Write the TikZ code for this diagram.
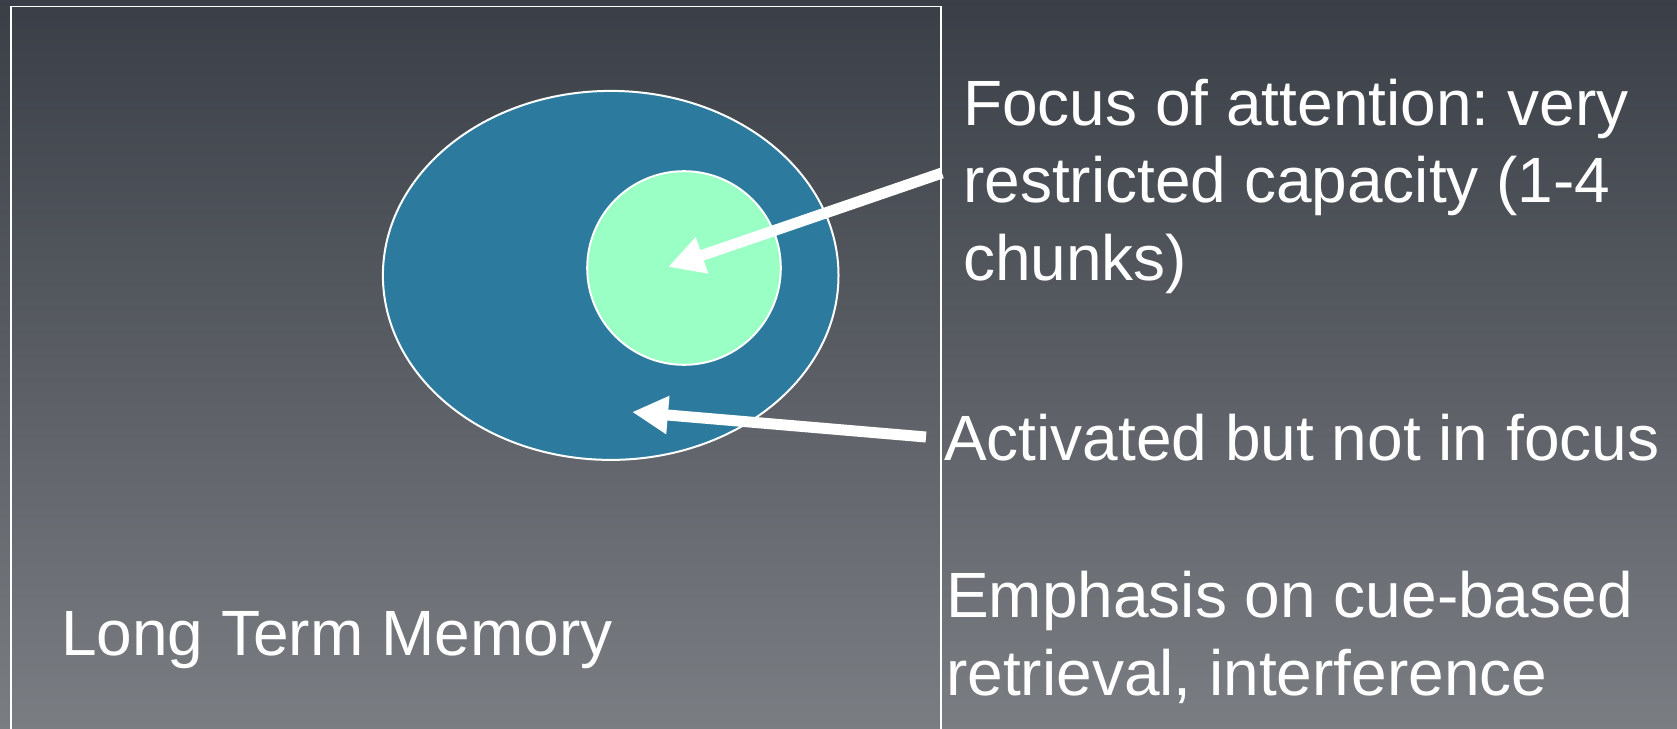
\documentclass[tikz,border=0pt]{standalone}
\usepackage{fontspec}
\setmainfont{Liberation Sans}
\usetikzlibrary{arrows.meta,shapes.geometric}
\definecolor{bgtop}{RGB}{58,62,70}
\definecolor{bgbot}{RGB}{122,125,130}
\definecolor{ltmblue}{RGB}{44,123,158}
\definecolor{focusgreen}{RGB}{153,255,196}
\frenchspacing
\begin{document}
\begin{tikzpicture}[x=1pt,y=1pt,
  lbl/.style={text=white,font=\fontsize{64}{77.5}\selectfont,inner sep=0pt,anchor=base west,align=left},
  pointer/.style={white,line width=11pt,-{Triangle[length=36pt,width=36pt]}},
  outline/.style={draw=white,line width=2pt,inner sep=0pt}
]
\useasboundingbox (0,0) rectangle (1677,-728);
\shade[top color=bgtop,bottom color=bgbot] (0,0) rectangle (1677,-728);
\clip (0,0) rectangle (1677,-728);
\draw[white,line width=1.6pt] (10.7,-6.4) rectangle (941,-760);
\node[ellipse,outline,fill=ltmblue,minimum width=455.6pt,minimum height=369pt] (active) at (610.7,-275.4) {};
\node[circle,outline,fill=focusgreen,minimum size=193.6pt] (focus) at (684,-268) {};
% base anchor of a multi-line node lies on its last line
\node[lbl] (focustext) at (963,-280) {Focus of attention: very\\restricted capacity (1-4\\chunks)};
\node[lbl] (activetext) at (944,-460) {Activated but not in focus};
\node[lbl] (cuetext) at (946,-695) {Emphasis on cue-based\\retrieval, interference};
\node[lbl] (ltmtext) at (61,-655) {Long Term Memory};
\coordinate (focusfrom) at (942,-173);
\coordinate (focustip) at (668,-267);
\coordinate (activefrom) at (926,-437);
\coordinate (activetip) at (632,-412);
\draw[pointer] (focusfrom) -- (focustip);
\draw[pointer] (activefrom) -- (activetip);
\end{tikzpicture}
\end{document}
